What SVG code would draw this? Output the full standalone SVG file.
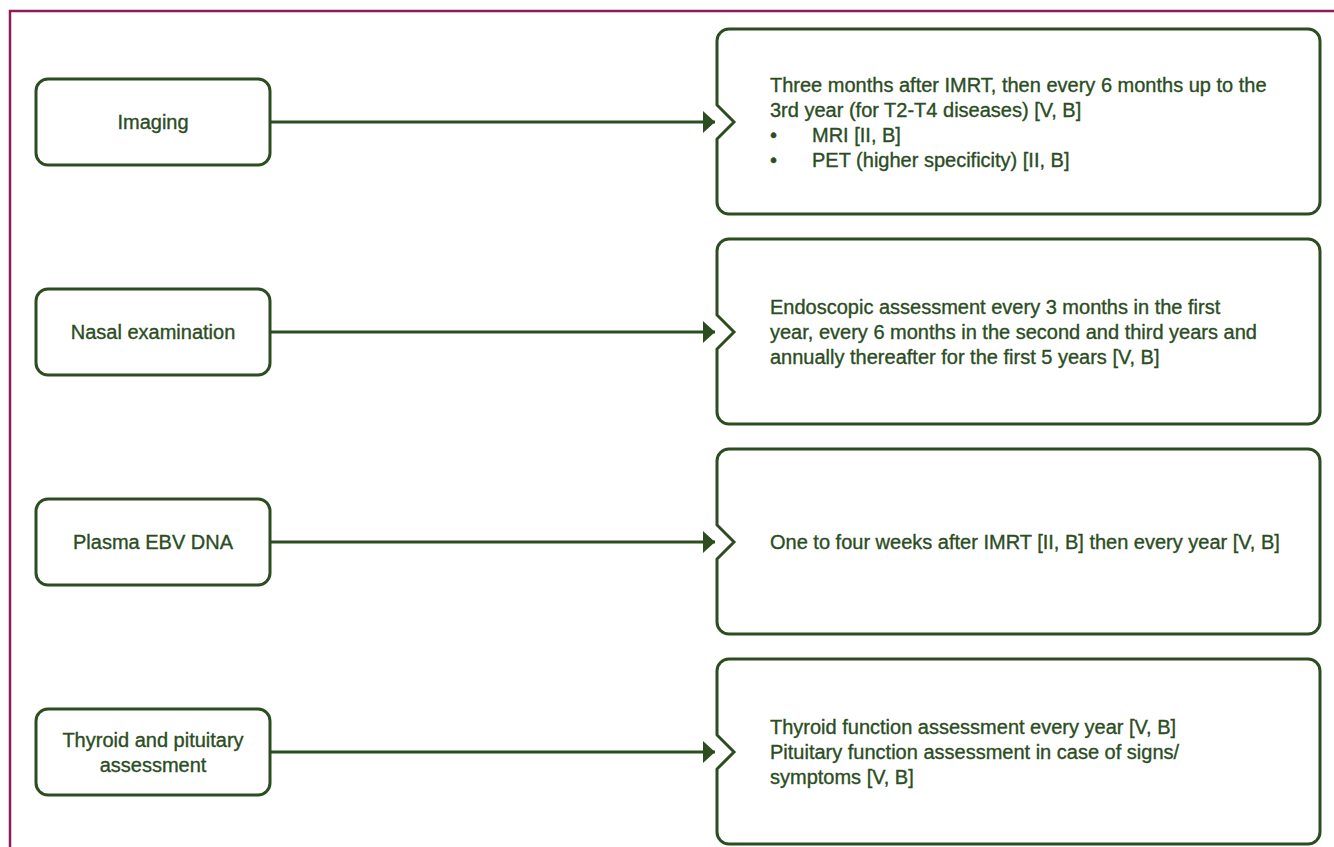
<svg xmlns="http://www.w3.org/2000/svg" width="1334" height="847" viewBox="0 0 1334 847">
<defs>
<style>
.frame{fill:none;stroke:#8e1b5e;stroke-width:2.5}
.box{fill:#ffffff;stroke:#2b4d1f;stroke-width:3}
.conn{fill:none;stroke:#2b4d1f;stroke-width:3}
.head{fill:#2b4d1f}
text{font-family:"Liberation Sans",Arial,sans-serif;font-size:20px;fill:#2b4d1f;stroke:#2b4d1f;stroke-width:0.35}
.c{text-anchor:middle}
</style>
<marker id="ah" viewBox="0 0 12 22" refX="12" refY="11" markerWidth="12" markerHeight="22" markerUnits="userSpaceOnUse" orient="auto">
<path d="M0 0 L12 11 L0 22 Z" class="head"/>
</marker>
</defs>
<rect width="1334" height="847" fill="#ffffff"/>
<path class="frame" d="M10 847 V11 H1334"/>

<g id="connectors">
<line class="conn" x1="270" y1="122" x2="715" y2="122" marker-end="url(#ah)"/>
<line class="conn" x1="270" y1="332" x2="715" y2="332" marker-end="url(#ah)"/>
<line class="conn" x1="270" y1="542" x2="715" y2="542" marker-end="url(#ah)"/>
<line class="conn" x1="270" y1="752" x2="715" y2="752" marker-end="url(#ah)"/>
</g>

<g id="imaging">
<rect class="box" x="36" y="79" width="234" height="86" rx="12"/>
<text class="c" x="153" y="129">Imaging</text>
</g>
<g id="nasal">
<rect class="box" x="36" y="289" width="234" height="86" rx="12"/>
<text class="c" x="153" y="339">Nasal examination</text>
</g>
<g id="plasma">
<rect class="box" x="36" y="499" width="234" height="86" rx="12"/>
<text class="c" x="153" y="549">Plasma EBV DNA</text>
</g>
<g id="thyroid">
<rect class="box" x="36" y="709" width="234" height="86" rx="12"/>
<text class="c" x="153" y="747">Thyroid and pituitary</text>
<text class="c" x="153" y="772">assessment</text>
</g>

<g id="imaging-detail">
<path class="box" d="M729 29 H1308 A12 12 0 0 1 1320 41 V202 A12 12 0 0 1 1308 214 H729 A12 12 0 0 1 717 202 V139 L734 122 L717 105 V41 A12 12 0 0 1 729 29 Z"/>
<text x="770" y="92">Three months after IMRT, then every 6 months up to the</text>
<text x="770" y="117">3rd year (for T2-T4 diseases) [V, B]</text>
<text x="770" y="142">•</text><text x="812" y="142">MRI [II, B]</text>
<text x="770" y="167">•</text><text x="812" y="167">PET (higher specificity) [II, B]</text>
</g>
<g id="nasal-detail">
<path class="box" d="M729 239 H1308 A12 12 0 0 1 1320 251 V412 A12 12 0 0 1 1308 424 H729 A12 12 0 0 1 717 412 V349 L734 332 L717 315 V251 A12 12 0 0 1 729 239 Z"/>
<text x="770" y="314">Endoscopic assessment every 3 months in the first</text>
<text x="770" y="339">year, every 6 months in the second and third years and</text>
<text x="770" y="364">annually thereafter for the first 5 years [V, B]</text>
</g>
<g id="plasma-detail">
<path class="box" d="M729 449 H1308 A12 12 0 0 1 1320 461 V622 A12 12 0 0 1 1308 634 H729 A12 12 0 0 1 717 622 V559 L734 542 L717 525 V461 A12 12 0 0 1 729 449 Z"/>
<text x="770" y="549">One to four weeks after IMRT [II, B] then every year [V, B]</text>
</g>
<g id="thyroid-detail">
<path class="box" d="M729 659 H1308 A12 12 0 0 1 1320 671 V832 A12 12 0 0 1 1308 844 H729 A12 12 0 0 1 717 832 V769 L734 752 L717 735 V671 A12 12 0 0 1 729 659 Z"/>
<text x="770" y="734">Thyroid function assessment every year [V, B]</text>
<text x="770" y="759">Pituitary function assessment in case of signs/</text>
<text x="770" y="784">symptoms [V, B]</text>
</g>
</svg>
